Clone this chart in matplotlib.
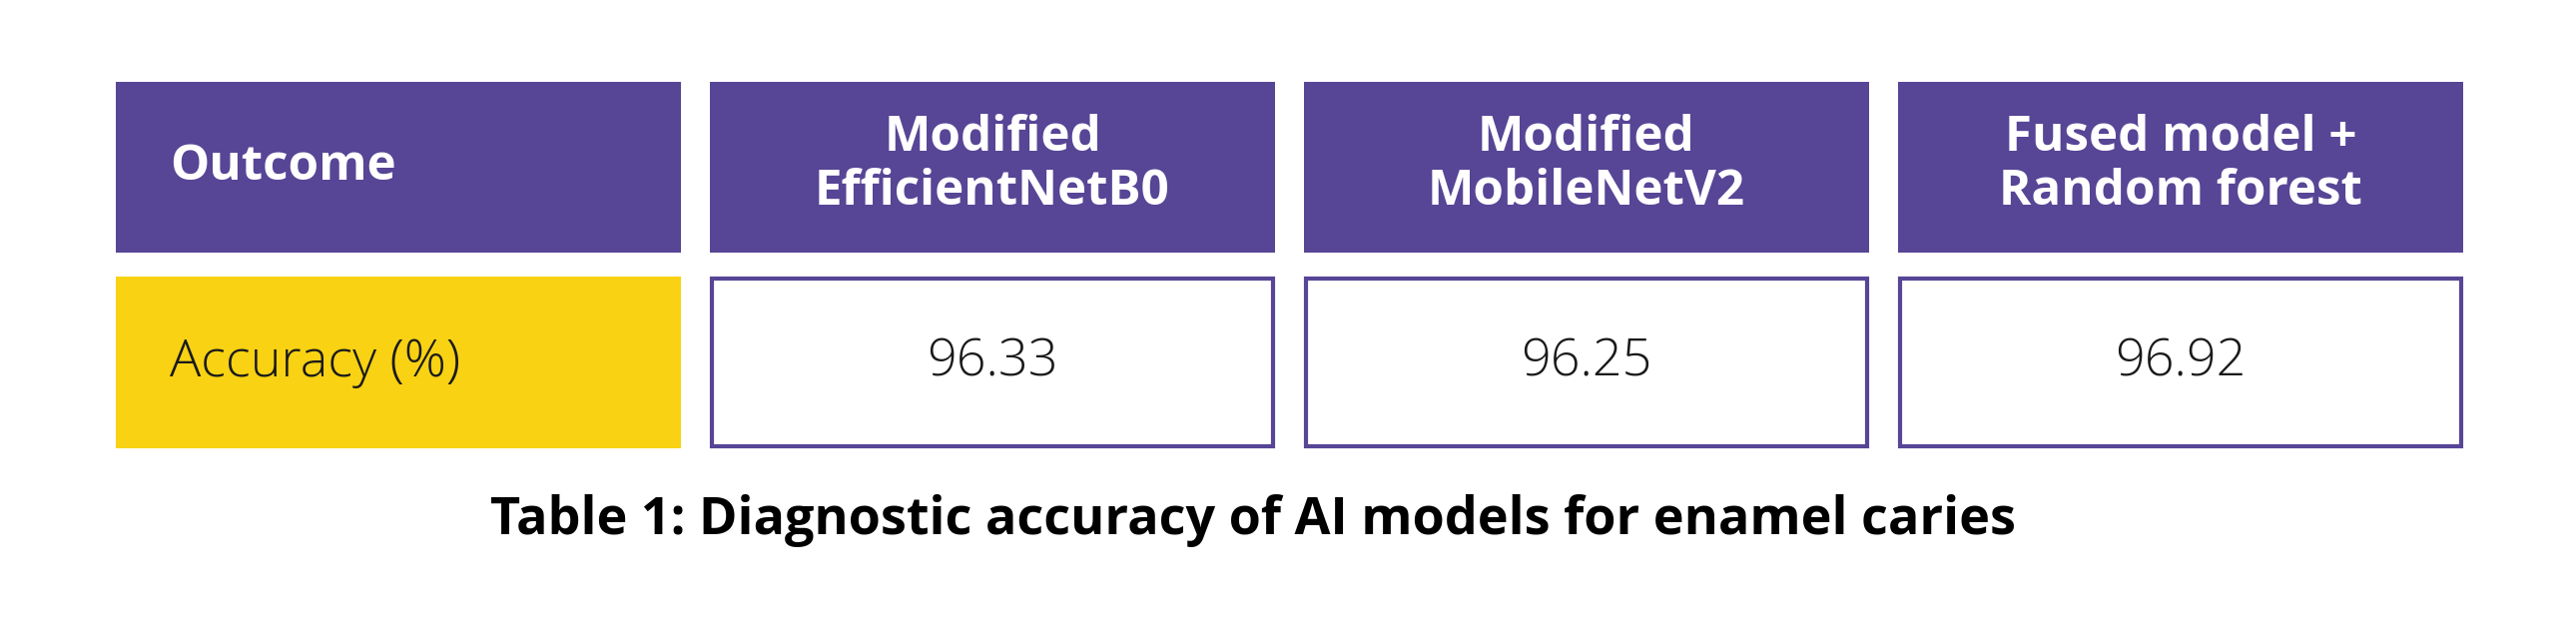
import numpy as np
import matplotlib.pyplot as plt
from matplotlib.patches import Rectangle

plt.rcParams['font.family'] = ['Open Sans', 'DejaVu Sans']

# table content
headers = ["Outcome", "Modified\nEfficientNetB0", "Modified\nMobileNetV2", "Fused model +\nRandom forest"]
row_label = "Accuracy (%)"
values = [96.33, 96.25, 96.92]
title = "Table 1: Diagnostic accuracy of AI models for enamel caries"

purple = "#574596"
yellow = "#F8D213"

W, H = 2580, 629
fig = plt.figure(figsize=(W / 100, H / 100), dpi=100)
ax = fig.add_axes([0, 0, 1, 1])
ax.set_xlim(0, W)
ax.set_ylim(H, 0)
ax.axis('off')

# grid layout in pixels
x0, step, cw = 116, 595, 566
head_top, head_h = 82, 171
row_top, row_h = 277, 172

for i, h in enumerate(headers):
    x = x0 + i * step
    ax.add_patch(Rectangle((x, head_top), cw, head_h, facecolor=purple, edgecolor='none'))
    if i == 0:
        ax.text(x + 54, head_top + head_h / 2, h, color='white', fontsize=35.5,
                fontweight='bold', ha='left', va='center')
    else:
        ax.text(x + cw / 2, head_top + head_h / 2 - 2, h, color='white', fontsize=35.5,
                fontweight='bold', ha='center', va='center', linespacing=1.12,
                multialignment='center')

# data row
ax.add_patch(Rectangle((x0, row_top), cw, row_h, facecolor=yellow, edgecolor='none'))
ax.text(x0 + 54, row_top + row_h / 2, row_label, color='#1a1a1a', fontsize=37.5,
        fontweight='light', ha='left', va='center')

for j, v in enumerate(values):
    x = x0 + (j + 1) * step
    ax.add_patch(Rectangle((x + 2, row_top + 2), cw - 4, row_h - 4, facecolor='white',
                           edgecolor=purple, linewidth=3))
    ax.text(x + cw / 2, row_top + row_h / 2, f"{v:.2f}", color='#1a1a1a', fontsize=37.5,
            fontweight='light', ha='center', va='center')

ax.text(1255, 522, title, color='black', fontsize=37.5, fontweight='bold',
        ha='center', va='center')

fig.savefig("out.png", dpi=100, facecolor='white')
